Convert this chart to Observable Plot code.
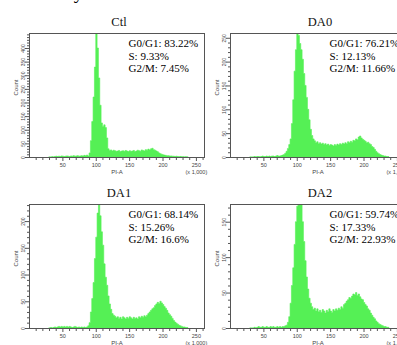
<!DOCTYPE html>
<html>
<head>
<meta charset="utf-8">
<script src="https://cdn.jsdelivr.net/npm/d3@7"></script>
<script src="https://cdn.jsdelivr.net/npm/@observablehq/plot@0.6"></script>
<style>
  html, body { margin: 0; padding: 0; background: #fff; }
  #wrap { position: relative; width: 397px; height: 345px; overflow: hidden; background: #fff; }
  #main-title { position: absolute; left: 29px; top: -18px; font: 19px "Liberation Serif", serif; color: #000; line-height: 22px; white-space: nowrap; }
  .panel { position: absolute; }
  .panel text { font-weight: normal; }
</style>
</head>
<body>
<div id="wrap">
  <div id="main-title">Cell cycle</div>
</div>
<script>
// ---- data (counts per PI-A channel bin, bins of 2 units starting at 30, x 1,000) ----
const binStart = 30;
const binWidth = 2;
const panelNames = ["Ctl", "DA0", "DA1", "DA2"];

const ctlCounts = [0,0,1,0,2,3,2,3,2,4,3,2,3,4,3,2,4,3,5,3,4,5,3,4,5,4,6,5,7,4,
  15,60,130,220,330,480,400,290,190,125,112,118,108,70,30,24,26,22,25,23,
  21,22,24,20,22,23,21,24,22,20,23,21,22,24,20,22,25,23,21,26,24,22,27,25,29,
  26,30,32,27,25,22,19,15,12,10,8,7,6,5,5,4,4,3,3,2,3,2,1,2,1,1,0,1,0,1];

const da0Counts = [0,0,0,1,0,1,1,0,1,2,1,1,2,1,2,1,2,2,1,2,3,2,2,3,4,5,8,12,18,26,
  38,70,120,180,225,262,255,238,225,205,175,150,125,100,78,58,45,38,34,30,
  32,28,30,27,29,26,28,25,27,24,26,25,23,26,24,27,25,28,26,29,27,30,28,32,30,
  33,31,35,34,38,36,42,44,40,37,35,33,30,31,28,26,22,20,16,12,9,7,5,4,3,2,2,1,1,0];

const da1Counts = [0,1,0,1,2,1,2,3,2,3,2,3,2,3,2,3,2,1,2,3,2,1,2,1,2,1,2,1,2,4,
  10,30,55,85,130,170,215,245,210,180,155,120,95,80,60,45,35,27,24,22,
  19,21,18,20,17,21,19,17,20,18,21,19,17,20,18,19,17,21,19,22,20,23,21,24,27,
  30,33,36,38,42,45,48,46,50,47,44,40,37,33,28,25,22,18,14,11,9,7,5,4,3,2,2,1,1,0];

const da2Counts = [0,0,0,1,0,1,2,1,1,2,1,1,2,1,1,2,1,2,1,1,2,1,2,1,2,2,3,4,8,16,
  35,60,85,118,150,172,185,180,182,150,122,95,72,55,42,35,30,26,28,24,
  27,23,25,22,26,24,21,25,23,27,24,22,26,24,27,25,28,26,30,28,33,35,38,40,43,
  42,45,48,47,50,46,48,44,41,40,36,33,31,27,25,21,18,15,13,10,8,6,5,4,3,2,2,1,1,0];

const yMaxes = [455, 260, 232, 175];
const yMajorTicks = [
  [0,50,100,150,200,250,300,350,400],
  [0,50,100,150,200,250],
  [0,50,100,150,200],
  [0,50,100,150]
];
const xMajorTicks = [50, 100, 150, 200, 250];
const xMinorTicks = [10,20,30,40,60,70,80,90,110,120,130,140,160,170,180,190,210,220,230,240,260];
const xDomainMax = 262.144;

const statLines = [
  ["G0/G1: 83.22%", "S: 9.33%", "G2/M: 7.45%"],
  ["G0/G1: 76.21%", "S: 12.13%", "G2/M: 11.66%"],
  ["G0/G1: 68.14%", "S: 15.26%", "G2/M: 16.6%"],
  ["G0/G1: 59.74%", "S: 17.33%", "G2/M: 22.93%"]
];
const xLabel = "PI-A";
const xUnit = "(x 1,000)";
const yLabel = "Count";

const allCounts = [ctlCounts, da0Counts, da1Counts, da2Counts];

// ---- layout ----
const positions = [[0, 0], [201, 0], [0, 171], [201, 171]];
const sans = "'Liberation Sans', Arial, sans-serif";
const serif = "'Liberation Serif', 'Times New Roman', serif";
const green = "#55f055";
const axisColor = "#555";

function makePanel(i) {
  const counts = allCounts[i];
  const data = counts.map((c, k) => ({x: binStart + binWidth * k, c}));
  const yMax = yMaxes[i];
  const minorY = d3.range(0, yMax, 10).filter(v => !yMajorTicks[i].includes(v));
  const svg = Plot.plot({
    width: 210, height: 177,
    marginLeft: 29, marginRight: 6, marginTop: 33, marginBottom: 20,
    style: {background: "transparent", overflow: "visible", fontFamily: sans},
    x: {domain: [0, xDomainMax]},
    y: {domain: [0, yMax]},
    marks: [
      Plot.areaY(data, {x: "x", y: "c", curve: "step-after", fill: green, stroke: green, strokeWidth: 0.6, clip: true}),
      Plot.frame({stroke: axisColor, strokeWidth: 1}),
      Plot.axisX({ticks: xMinorTicks, tickSize: 3, tickFormat: () => "", stroke: axisColor, label: null}),
      Plot.axisX({ticks: xMajorTicks, tickSize: 4, tickPadding: 2, fontSize: 5.5, fill: "#444", stroke: axisColor, label: null}),
      Plot.axisY({ticks: minorY, tickSize: 2, tickFormat: () => "", stroke: axisColor, label: null}),
      Plot.axisY({ticks: yMajorTicks[i], tickSize: 4, tickPadding: 1, tickRotate: -90, fontSize: 5, fill: "#444", stroke: axisColor, label: null}),
      Plot.text([xLabel], {frameAnchor: "bottom", dy: 16, fontSize: 6, fill: "#444", fontFamily: sans}),
      Plot.text([xUnit], {x: () => 250, frameAnchor: "bottom", dy: 16, fontSize: 5.5, fill: "#444", fontFamily: sans}),
      Plot.text([yLabel], {frameAnchor: "left", dx: -13, rotate: -90, fontSize: 6, fill: "#444", fontFamily: sans}),
      Plot.text([panelNames[i]], {frameAnchor: "top", dx: 2, dy: -8, lineAnchor: "bottom", fontSize: 12.5, fill: "#111", fontFamily: serif}),
      Plot.text([statLines[i].join("\n")], {frameAnchor: "top-left", dx: 99, dy: 5, textAnchor: "start", lineAnchor: "top", lineHeight: 1.14, fontSize: 11, fill: "#000", fontFamily: serif})
    ]
  });
  svg.classList.add("panel");
  svg.style.left = positions[i][0] + "px";
  svg.style.top = positions[i][1] + "px";
  document.getElementById("wrap").appendChild(svg);
}

for (let i = 0; i < 4; i++) makePanel(i);
</script>
</body>
</html>
